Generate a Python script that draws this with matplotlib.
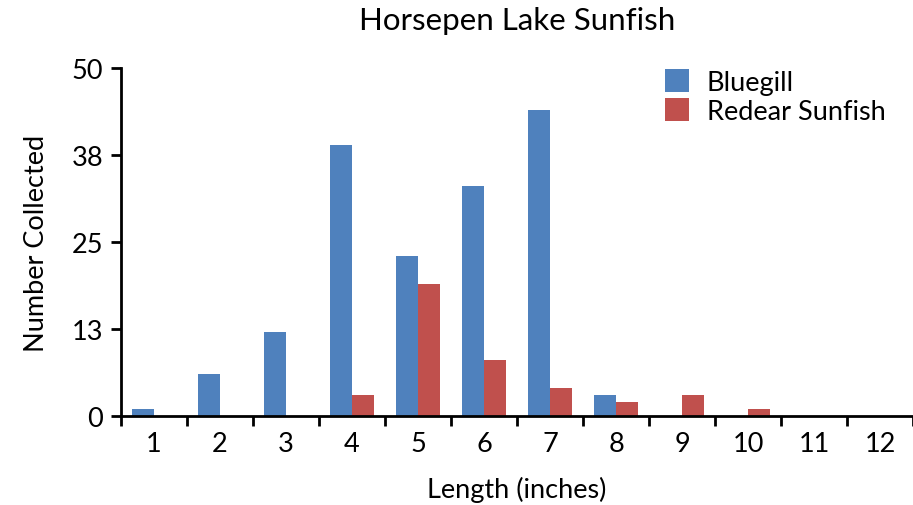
import matplotlib.pyplot as plt
import numpy as np

plt.rcParams['font.family'] = ['Lato', 'DejaVu Sans']

lengths = ['1', '2', '3', '4', '5', '6', '7', '8', '9', '10', '11', '12']
bluegill = [1, 6, 12, 39, 23, 33, 44, 3, 0, 0, 0, 0]
redear = [0, 0, 0, 3, 19, 8, 4, 2, 3, 1, 0, 0]
yticks = [0, 12.5, 25, 37.5, 50]
ytick_labels = ['0', '13', '25', '38', '50']

fig = plt.figure(figsize=(9.13, 5.06), dpi=100)
ax = fig.add_axes([121/913, 1-417/506, 1-121/913, (417-69)/506])

x = np.arange(1, len(lengths)+1)
w = 1/3
ax.bar(x - w/2, bluegill, w, color='#4F81BD', label='Bluegill')
ax.bar(x + w/2, redear, w, color='#C0504D', label='Redear Sunfish')

ax.set_xlim(0.5, 12.5)
ax.set_ylim(0, 50)
ax.set_yticks(yticks)
ax.set_yticklabels(ytick_labels)
# Excel style: tick marks between categories, labels in the middle
ax.set_xticks(np.arange(0.5, 12.6, 1))
ax.set_xticklabels([])
ax.set_xticks(x, minor=True)
ax.set_xticklabels(lengths, minor=True)
ax.tick_params(axis='x', which='major', direction='out', length=7, width=2)
ax.tick_params(axis='x', which='minor', length=0, pad=11, labelsize=19.5)
ax.tick_params(axis='y', direction='out', length=7, width=2, labelsize=19.5, pad=6)

for s in ['top', 'right']:
    ax.spines[s].set_visible(False)
for s in ['left', 'bottom']:
    ax.spines[s].set_linewidth(2)

ax.set_title('Horsepen Lake Sunfish', fontsize=22.5, pad=28)
ax.set_xlabel('Length (inches)', fontsize=19.5, labelpad=14)
ax.set_ylabel('Number Collected', fontsize=19.5, labelpad=16)
ax.legend(loc='upper right', bbox_to_anchor=(0.996, 1.067), frameon=False, fontsize=19.5,
          handlelength=0.9, handleheight=0.95, handletextpad=0.65, labelspacing=0.1)

fig.savefig('out.png', dpi=100)
